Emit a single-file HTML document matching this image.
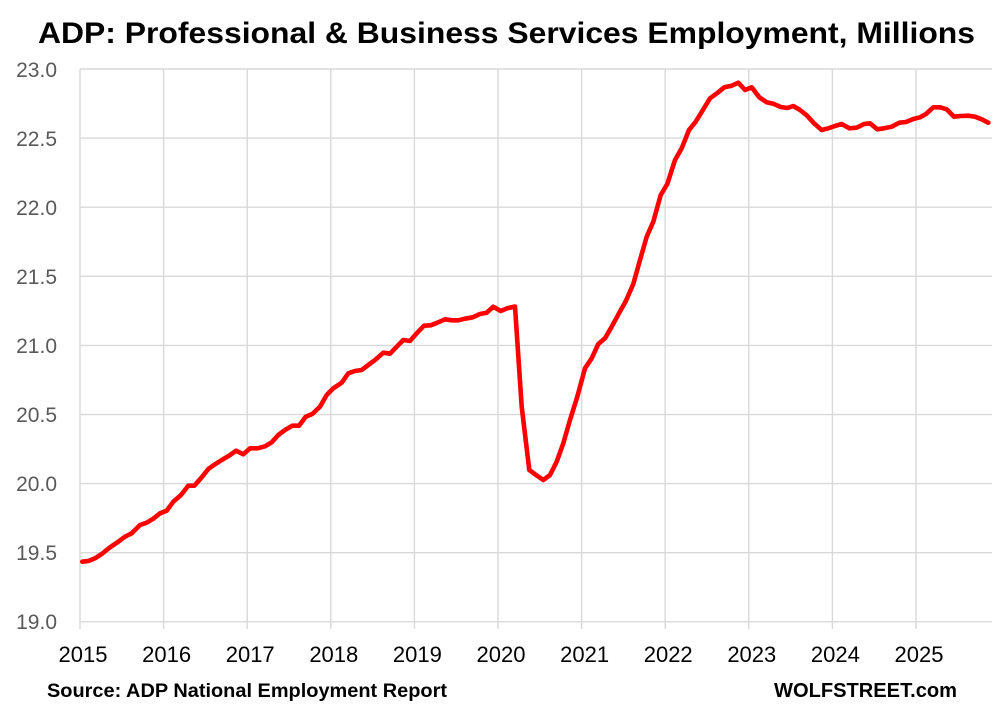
<!DOCTYPE html>
<html><head><meta charset="utf-8"><style>
html,body{margin:0;padding:0;background:#fff;}
svg{display:block;}
</style></head><body>
<svg width="996" height="706" viewBox="0 0 996 706" xmlns="http://www.w3.org/2000/svg">
<rect width="996" height="706" fill="#fff"/>
<text x="38" y="43" font-family="Liberation Sans, sans-serif" font-weight="bold" font-size="30" fill="#000" textLength="937" lengthAdjust="spacingAndGlyphs">ADP: Professional &amp; Business Services Employment, Millions</text>
<g stroke="#d9d9d9" stroke-width="1.4" fill="none">
<line x1="80" y1="69" x2="992" y2="69"/>
<line x1="80" y1="138.1" x2="992" y2="138.1"/>
<line x1="80" y1="207.2" x2="992" y2="207.2"/>
<line x1="80" y1="276.3" x2="992" y2="276.3"/>
<line x1="80" y1="345.4" x2="992" y2="345.4"/>
<line x1="80" y1="414.5" x2="992" y2="414.5"/>
<line x1="80" y1="483.6" x2="992" y2="483.6"/>
<line x1="80" y1="552.7" x2="992" y2="552.7"/>
<line x1="80" y1="621.8" x2="992" y2="621.8"/>
<line x1="80" y1="69" x2="80" y2="629"/>
<line x1="163.6" y1="69" x2="163.6" y2="629"/>
<line x1="247.2" y1="69" x2="247.2" y2="629"/>
<line x1="330.8" y1="69" x2="330.8" y2="629"/>
<line x1="414.4" y1="69" x2="414.4" y2="629"/>
<line x1="498" y1="69" x2="498" y2="629"/>
<line x1="581.6" y1="69" x2="581.6" y2="629"/>
<line x1="665.2" y1="69" x2="665.2" y2="629"/>
<line x1="748.8" y1="69" x2="748.8" y2="629"/>
<line x1="832.4" y1="69" x2="832.4" y2="629"/>
<line x1="916" y1="69" x2="916" y2="629"/>
</g>
<g font-family="Liberation Sans, sans-serif" font-size="21" fill="#595959" text-anchor="end">
<text x="57" y="77">23.0</text>
<text x="57" y="146">22.5</text>
<text x="57" y="215">22.0</text>
<text x="57" y="284">21.5</text>
<text x="57" y="353">21.0</text>
<text x="57" y="422">20.5</text>
<text x="57" y="491">20.0</text>
<text x="57" y="560">19.5</text>
<text x="57" y="629">19.0</text>
</g>
<g font-family="Liberation Sans, sans-serif" font-size="22" fill="#000" text-anchor="middle">
<text x="83" y="662">2015</text>
<text x="166.6" y="662">2016</text>
<text x="250.2" y="662">2017</text>
<text x="333.8" y="662">2018</text>
<text x="417.4" y="662">2019</text>
<text x="501" y="662">2020</text>
<text x="584.6" y="662">2021</text>
<text x="668.2" y="662">2022</text>
<text x="751.8" y="662">2023</text>
<text x="835.4" y="662">2024</text>
<text x="919" y="662">2025</text>
</g>
<polyline fill="none" stroke="#ff0000" stroke-width="4.6" stroke-linejoin="round" stroke-linecap="round" points="82.3,561.7 88.3,561 95,558.3 101.7,554 110,547.3 118.3,541.7 125,536.7 131.7,533.3 140,525 146.7,522.7 153.3,518.7 160,513.3 166.7,510.7 173.3,501.7 181,495 188.3,485.7 194.3,485.7 201.7,477.3 208.3,469 215,464.3 221.7,460 229,455.7 236,450.7 243.3,454.3 250,448.3 257.7,448.3 265,446.3 271.7,442.3 278.3,435 285,430 292.3,425.7 299,425.7 305.7,416.7 312.3,414 320,406.7 326.7,395 333.3,388.3 341.7,382.7 348.3,373.3 355,371 361.7,370 368.3,365 375,360 383.3,352.7 390,353.7 396.7,346.7 403.3,340 410,341 416.7,333.3 424,325.7 430.7,325.3 437.3,322.7 445,319.3 451.7,320.3 458.3,320.3 465,318.7 472.7,317.3 480,314 486.7,312.7 493.3,306.7 500.7,311 507.3,308.3 515,306.5 521.7,406.7 529.3,470 536,475 543.3,480 550,475 556.7,461.7 563.3,443.3 570,420 577.3,396.7 585,368.3 591.7,358.3 598.3,344 605,338.3 611.7,326.7 619.3,312.7 626,300.7 633.3,284 640,260 646.7,236.7 653.3,221.7 660.7,195 667.3,184 675,160 681.7,148.3 689,130 695.7,121.7 703.3,109.3 710,98.3 717.7,92.7 724.3,87.3 731.7,85.7 738.3,82.7 745,90 751.7,87.3 759.3,97.3 766.7,102.3 773.3,103.7 780.7,107 787.3,108 793.3,106 800,110 806.7,115.3 814,123.3 821.7,130 828.3,128.3 835,126 841.7,124 849.3,128.3 856.7,127.7 864,124 870,123.3 877.3,129.3 884,128.3 891.7,126.7 899.3,122.7 906,122 913.3,119 920,117.3 926,114 933.3,107.3 940,107.3 946.7,109.3 954,116.7 960.7,116 968.3,115.7 975,116.7 981.7,119.3 988.3,122.7"/>
<text x="47" y="697" font-family="Liberation Sans, sans-serif" font-weight="bold" font-size="19" fill="#000" textLength="400" lengthAdjust="spacingAndGlyphs">Source: ADP National Employment Report</text>
<text x="774" y="697" font-family="Liberation Sans, sans-serif" font-weight="bold" font-size="20" fill="#000" textLength="183" lengthAdjust="spacingAndGlyphs">WOLFSTREET.com</text>
</svg>
</body></html>
